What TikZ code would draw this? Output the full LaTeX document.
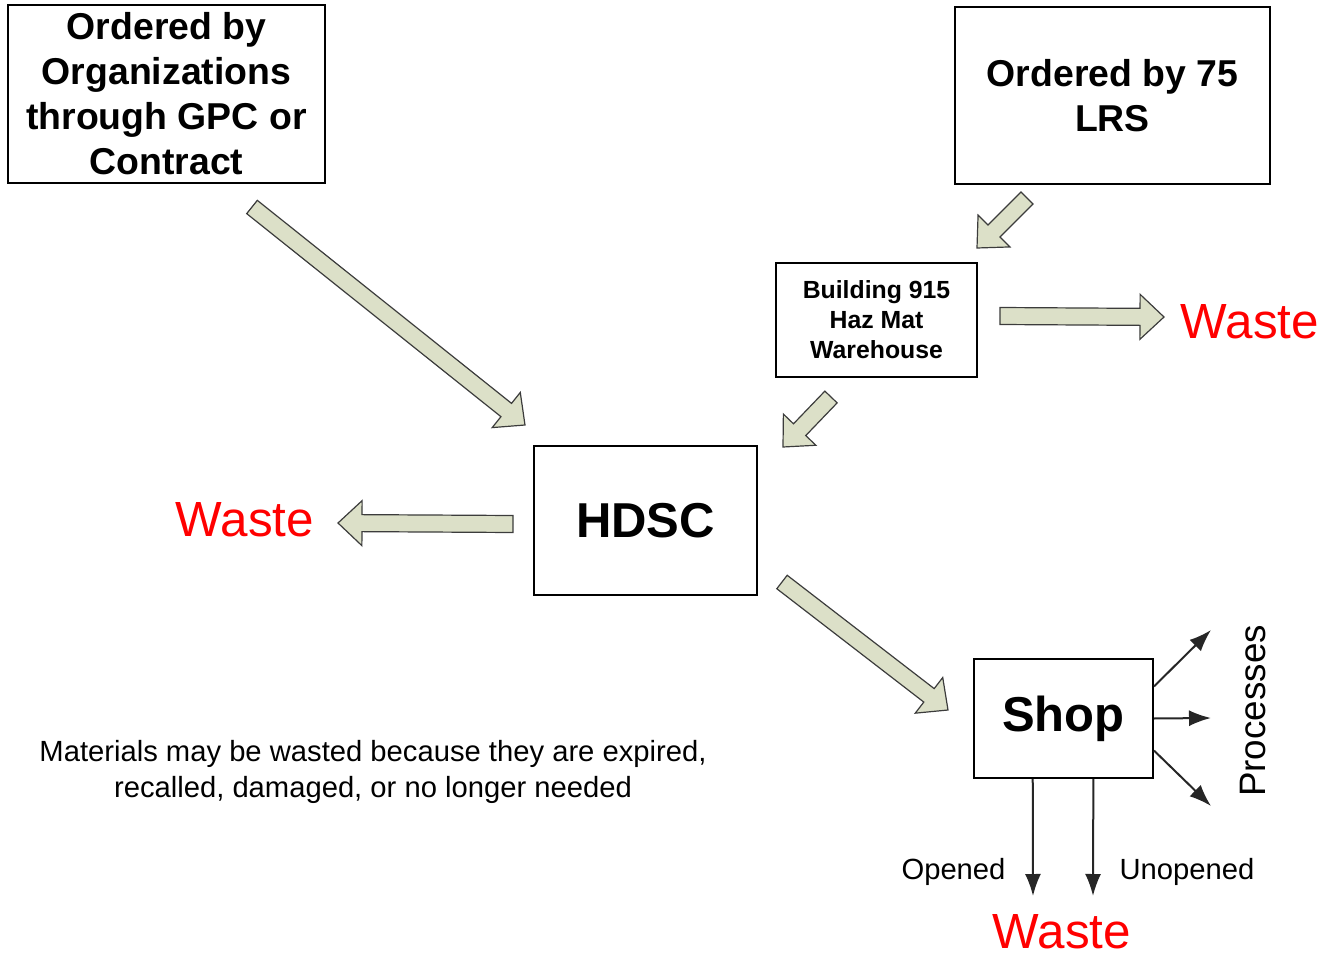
\documentclass[tikz,border=0pt]{standalone}
\usepackage{fontspec}
\setmainfont{Liberation Sans}
\usetikzlibrary{positioning,calc,arrows.meta}

\definecolor{arrowfill}{HTML}{DCE0C8}
\definecolor{arrowedge}{HTML}{3C3C3C}
\definecolor{wastered}{HTML}{FF0000}

\tikzset{
    box/.style={draw, rectangle, line width=1pt, align=center, font=\bfseries\fontsize{18.7}{22.5}\selectfont},
    blockarrow/.style={draw=arrowedge, fill=arrowfill, line width=0.6pt, line join=miter},
    waste/.style={text=wastered, font=\fontsize{24.7}{28}\selectfont},
    note/.style={align=center, font=\fontsize{14.6}{18}\selectfont},
    thinarrow/.style={-{Latex[length=11pt,width=8pt]}, line width=1pt, draw=black!85}
}

% fat arrow from tail #1 to tip #2
\newcommand{\blockarrow}[2]{%
    \coordinate (hb) at ($(#2)!12pt!(#1)$);
    \draw[blockarrow] ($(#1)!4.25pt!-90:(#2)$) -- ($(hb)!4.25pt!-90:(#2)$) -- ($(hb)!11.25pt!-90:(#2)$) -- (#2)
        -- ($(hb)!11.25pt!90:(#2)$) -- ($(hb)!4.25pt!90:(#2)$) -- ($(#1)!4.25pt!90:(#2)$) -- cycle;
}

\begin{document}
\begin{tikzpicture}[x=0.5pt, y=-0.5pt]
            \useasboundingbox (0,0) rectangle (1323,957);

            %% Boxes
            % where the material is ordered
            \node[box, minimum width=158.5pt, minimum height=89pt] (gpc) at (166.5,94) {Ordered by\\Organizations\\through GPC or\\Contract};
            \node[box, minimum width=157.5pt, minimum height=88.5pt] (lrs) at (1112.5,95.5) {Ordered by 75\\LRS};

            % warehouse, HDSC and shop
            \node[box, minimum width=100.5pt, minimum height=57pt, font=\bfseries\fontsize{12.4}{15}\selectfont] (warehouse) at (876.5,320) {Building 915\\Haz Mat\\Warehouse};
            \node[box, minimum width=111.5pt, minimum height=74.5pt, font=\bfseries\fontsize{24.5}{28}\selectfont] (hdsc) at (645.5,520.5) {HDSC};
            \node[box, minimum width=89.5pt, minimum height=59.5pt, font=\bfseries\fontsize{24.5}{28}\selectfont] (shop) at (1063.5,718.5) {Shop};

            %% Waste and other labels
            \node[waste] (waste_right) at (1250,322) {Waste};
            \node[waste] (waste_left) at (245,520) {Waste};
            \node[waste] (waste_shop) at (1062,932) {Waste};

            \node[note] (reasons) at (373,772) {Materials may be wasted because they are expired,\\recalled, damaged, or no longer needed};
            \node[note] (opened) at (953.5,872) {Opened};
            \node[note] (unopened) at (1187,872) {Unopened};
            \node[rotate=90, font=\fontsize{18.4}{22}\selectfont] (processes) at (1253,711) {Processes};

            %% Fat arrows
            \coordinate (gpc_tail) at (252,207);
            \coordinate (gpc_tip) at (525,425);
            \coordinate (lrs_tail) at (1027,198);
            \coordinate (lrs_tip) at (977,248);
            \coordinate (wh_waste_tail) at (1000,316);
            \coordinate (wh_waste_tip) at (1164,317);
            \coordinate (wh_hdsc_tail) at (831,397);
            \coordinate (wh_hdsc_tip) at (783,447);
            \coordinate (hdsc_waste_tail) at (513,524);
            \coordinate (hdsc_waste_tip) at (338,523);
            \coordinate (hdsc_shop_tail) at (782,582);
            \coordinate (hdsc_shop_tip) at (948,710);

            \blockarrow{gpc_tail}{gpc_tip}
            \blockarrow{lrs_tail}{lrs_tip}
            \blockarrow{wh_waste_tail}{wh_waste_tip}
            \blockarrow{wh_hdsc_tail}{wh_hdsc_tip}
            \blockarrow{hdsc_waste_tail}{hdsc_waste_tip}
            \blockarrow{hdsc_shop_tail}{hdsc_shop_tip}

            %% Shop outputs
            % processes
            \coordinate (proc_up) at (1211,630);
            \coordinate (proc_mid) at (1211,718);
            \coordinate (proc_down) at (1211,806);
            \draw[thinarrow] ($(shop.north east)!0.235!(shop.south east)$) -- (proc_up);
            \draw[thinarrow] (shop.east) -- (proc_mid);
            \draw[thinarrow] ($(shop.north east)!0.765!(shop.south east)$) -- (proc_down);

            % opened and unopened to waste
            \coordinate (opened_end) at (1033,896);
            \coordinate (unopened_end) at (1093,896);
            \draw[thinarrow] ($(shop.south west)!0.33!(shop.south east)$) -- (opened_end);
            \draw[thinarrow] ($(shop.south west)!0.665!(shop.south east)$) -- (unopened_end);

\end{tikzpicture}
\end{document}
